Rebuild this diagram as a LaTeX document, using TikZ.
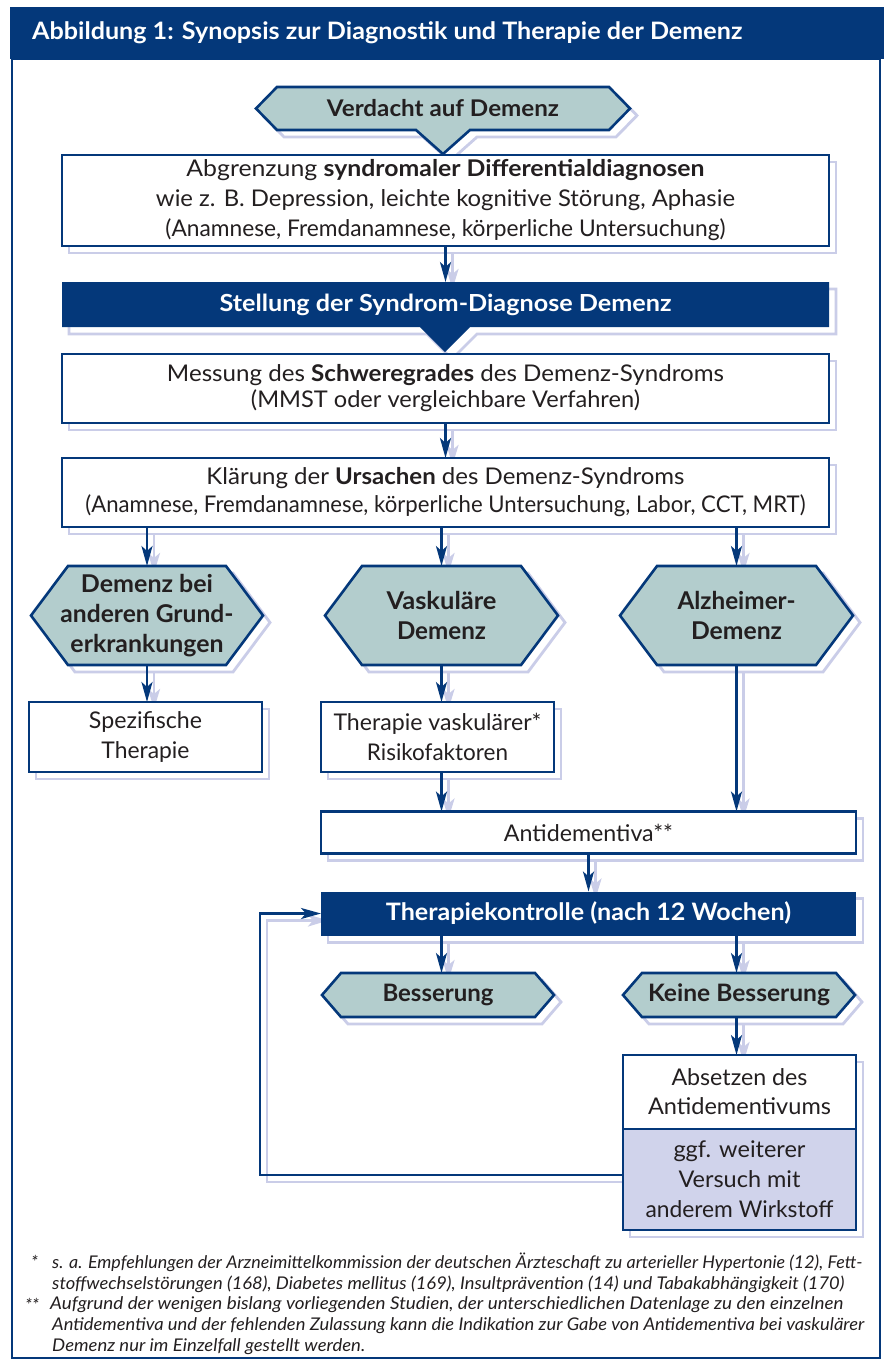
\documentclass[tikz,border=0pt]{standalone}
\usepackage{fontspec}
\setmainfont{Lato}
\usepackage{graphicx}
\usetikzlibrary{arrows.meta,calc}
\definecolor{navy}{HTML}{04387A}
\definecolor{hexfill}{HTML}{B3CDCD}
\definecolor{shad}{HTML}{CACDE8}
\definecolor{lav}{HTML}{D0D3EB}
\definecolor{txt}{HTML}{231F20}
\pgfdeclarelayer{back}
\pgfdeclarelayer{shadow}
\pgfdeclarelayer{bg}
\pgfsetlayers{back,shadow,bg,main}
\newcommand\fs[2]{\fontsize{#1}{#2}\selectfont}
\newcommand\fitw[2]{\resizebox{#1pt}{\height}{#2}}
\newcommand\hexpath[2]{(#1.west) -- ([xshift=#2]#1.north west) -- ([xshift=-#2]#1.north east) -- (#1.east) -- ([xshift=-#2]#1.south east) -- ([xshift=#2]#1.south west) -- cycle}
\begin{document}
\begin{tikzpicture}[x=1pt,y=-1pt,
  box/.style={draw=navy, line width=2.6pt, fill=white, inner sep=0pt, outer sep=0pt, align=center, text=txt},
  darkbox/.style={fill=navy, inner sep=0pt, outer sep=0pt, align=center, text=white},
  hexnode/.style={inner sep=0pt, outer sep=0pt, align=center, text=txt},
  hexst/.style={fill=hexfill, draw=navy, line width=2.6pt, line join=miter},
  shadowst/.style={draw=shad, line width=2.8pt},
  sh/.style={transform canvas={shift={(7pt,-7pt)}}},
  arr/.style={draw=navy, line width=2.5pt, -{Stealth[length=20pt,width=11pt,inset=5pt]}},
  arrsh/.style={draw=shad, line width=2.8pt, -{Stealth[length=20pt,width=12pt,inset=5pt]}, sh},
  fn/.style={anchor=west, inner sep=0pt, text=txt, font=\itshape\fs{17.5}{21}}
]
\begin{pgfonlayer}{back}
\fill[white] (0,0) rectangle (884,1363);
\end{pgfonlayer}
% title and frame
\fill[navy] (10,7) rectangle (884,59);
\draw[navy, line width=2pt] (12,59) rectangle (880,1358);
\node[anchor=west, inner sep=0pt, text=white, font=\bfseries\fs{24}{28}] (title) at (32,33) {\fitw{710}{Abbildung 1: Synopsis zur Diagnostik und Therapie der Demenz}};

% nodes
\coordinate (vw) at (256,108.5);
\coordinate (vnw) at (277,87);
\coordinate (vne) at (609,87);
\coordinate (ve) at (630,108.5);
\coordinate (vse) at (609,130);
\coordinate (vr) at (470,130);
\coordinate (vtip) at (443,154);
\coordinate (vl) at (416,130);
\coordinate (vsw) at (277,130);
\coordinate (sr) at (470,327);
\coordinate (stip) at (445,352);
\coordinate (sl) at (420,327);
\node[box, minimum width=767pt, minimum height=91pt, font=\fs{23}{30}] (abgr) at (445.5,200.5) {\fitw{518}{Abgrenzung \textbf{syndromaler Differentialdiagnosen}}\\\fitw{579}{wie z. B. Depression, leichte kognitive Störung, Aphasie}\\\fitw{560}{(Anamnese, Fremdanamnese, körperliche Untersuchung)}};
\node[hexnode, text=white, minimum width=767pt, minimum height=45pt, font=\bfseries\fs{23.5}{26}] (stell) at (445.5,304.5) {\fitw{452}{Stellung der Syndrom-Diagnose Demenz}};
\node[box, minimum width=767pt, minimum height=69pt, font=\fs{23}{26}] (mess) at (445.5,388.5) {\fitw{557}{Messung des \textbf{Schweregrades} des Demenz-Syndroms}\\\fitw{389}{(MMST oder vergleichbare Verfahren)}};
\node[box, minimum width=767pt, minimum height=69pt, font=\fs{23}{28}] (klaer) at (445.5,492.5) {\fitw{478}{Klärung der \textbf{Ursachen} des Demenz-Syndroms}\\\fitw{720}{(Anamnese, Fremdanamnese, körperliche Untersuchung, Labor, CCT, MRT)}};
\node[hexnode, minimum width=232pt, minimum height=99pt, font=\bfseries\fs{24.5}{30}] (hex1) at (147,615.5) {\fitw{132}{Demenz bei}\\\fitw{173}{anderen Grund-}\\\fitw{153}{erkrankungen}};
\node[hexnode, minimum width=233pt, minimum height=99pt, font=\bfseries\fs{24.5}{30}] (hex2) at (441.5,615.5) {\fitw{110}{Vaskuläre}\\\fitw{89}{Demenz}};
\node[hexnode, minimum width=233pt, minimum height=99pt, font=\bfseries\fs{24.5}{30}] (hex3) at (736.5,615.5) {\fitw{118}{Alzheimer-}\\\fitw{91}{Demenz}};
\node[box, minimum width=233pt, minimum height=70pt, font=\fs{23}{30}] (spez) at (145.5,737) {\fitw{113}{Spezifische}\\\fitw{88}{Therapie}};
\node[box, minimum width=233pt, minimum height=70pt, font=\fs{23}{30}] (thvas) at (437.5,737) {\fitw{208}{Therapie vaskulärer*}\\\fitw{141}{Risikofaktoren}};
\node[box, minimum width=535pt, minimum height=42pt, font=\fs{23}{29}] (anti) at (588.5,832.5) {\fitw{169}{Antidementiva**}};
\node[darkbox, minimum width=535pt, minimum height=44pt, font=\bfseries\fs{24}{29}] (thk) at (588.5,913.5) {\fitw{405}{Therapiekontrolle (nach 12 Wochen)}};
\node[hexnode, minimum width=232pt, minimum height=44pt, font=\bfseries\fs{24}{29}] (bess) at (438,995) {\fitw{111}{Besserung}};
\node[hexnode, minimum width=232pt, minimum height=44pt, font=\bfseries\fs{24}{29}] (keine) at (739,995) {\fitw{182}{Keine Besserung}};
\node[box, minimum width=233pt, minimum height=74pt, font=\fs{23}{29}] (abs) at (739.5,1092) {\fitw{136}{Absetzen des}\\\fitw{183}{Antidementivums}};
\node[box, fill=lav, minimum width=233pt, minimum height=101pt, font=\fs{23}{30}] (ggf) at (739.5,1179.5) {\fitw{132}{ggf. weiterer}\\\fitw{122}{Versuch mit}\\\fitw{188}{anderem Wirkstoff}};
\coordinate (loopc) at (260,1000);
\coordinate (loopst) at ([yshift=4.5pt]ggf.west);

% shaped node "Verdacht" (hexagon with pointer), then its text
\path[hexst] (vw) -- (vnw) -- (vne) -- (ve) -- (vse) -- (vr) -- (vtip) -- (vl) -- (vsw) -- cycle;
\node[hexnode, minimum width=374pt, minimum height=43pt, font=\bfseries\fs{23}{26}] (verd) at (443,108.5) {\fitw{232}{Verdacht auf Demenz}};

% fills of shaped nodes
\begin{pgfonlayer}{bg}
\path[fill=navy] (stell.north west) -- (stell.north east) -- (stell.south east) -- (sr) -- (stip) -- (sl) -- (stell.south west) -- cycle;
\path[hexst] \hexpath{hex1}{37pt};
\path[hexst] \hexpath{hex2}{37pt};
\path[hexst] \hexpath{hex3}{37pt};
\path[hexst] \hexpath{bess}{19pt};
\path[hexst] \hexpath{keine}{19pt};
\end{pgfonlayer}

% shadows
\begin{pgfonlayer}{shadow}
\path[shadowst, sh] (vw) -- (vnw) -- (vne) -- (ve) -- (vse) -- (vr) -- (vtip) -- (vl) -- (vsw) -- cycle;
\path[shadowst, sh] (stell.north west) -- (stell.north east) -- (stell.south east) -- (sr) -- (stip) -- (sl) -- (stell.south west) -- cycle;
\path[shadowst, sh] \hexpath{hex1}{37pt};
\path[shadowst, sh] \hexpath{hex2}{37pt};
\path[shadowst, sh] \hexpath{hex3}{37pt};
\path[shadowst, sh] \hexpath{bess}{19pt};
\path[shadowst, sh] \hexpath{keine}{19pt};
\foreach \n in {abgr,mess,klaer,spez,thvas,anti,thk}{
  \draw[shadowst, sh] (\n.north west) rectangle (\n.south east);
}
\draw[shadowst, sh] (abs.north west) rectangle (ggf.south east);
\draw[arrsh] (abgr.south) -- (stell.north);
\draw[arrsh] (mess.south) -- (klaer.north);
\draw[arrsh] (klaer.south -| hex1.north) -- (hex1.north);
\draw[arrsh] (klaer.south -| hex2.north) -- (hex2.north);
\draw[arrsh] (klaer.south -| hex3.north) -- (hex3.north);
\draw[arrsh] (hex1.south) -- (hex1.south |- spez.north);
\draw[arrsh] (hex2.south) -- (hex2.south |- thvas.north);
\draw[arrsh] (thvas.south -| hex2) -- (hex2 |- anti.north);
\draw[arrsh] (hex3.south) -- (hex3.south |- anti.north);
\draw[arrsh] (anti.south) -- (thk.north);
\draw[arrsh] (thk.south -| hex2) -- (hex2 |- bess.north);
\draw[arrsh] (thk.south -| hex3) -- (hex3 |- keine.north);
\draw[arrsh] (keine.south -| hex3) -- (hex3 |- abs.north);
\draw[arrsh] (loopst) -- (loopst -| loopc) -- (loopc |- thk.west) -- (thk.west);
\end{pgfonlayer}

% connectors
\draw[arr] (abgr.south) -- (stell.north);
\draw[arr] (mess.south) -- (klaer.north);
\draw[arr] (klaer.south -| hex1.north) -- (hex1.north);
\draw[arr] (klaer.south -| hex2.north) -- (hex2.north);
\draw[arr] (klaer.south -| hex3.north) -- (hex3.north);
\draw[arr] (hex1.south) -- (hex1.south |- spez.north);
\draw[arr] (hex2.south) -- (hex2.south |- thvas.north);
\draw[arr] (thvas.south -| hex2) -- (hex2 |- anti.north);
\draw[arr] (hex3.south) -- (hex3.south |- anti.north);
\draw[arr] (anti.south) -- (thk.north);
\draw[arr] (thk.south -| hex2) -- (hex2 |- bess.north);
\draw[arr] (thk.south -| hex3) -- (hex3 |- keine.north);
\draw[arr] (keine.south -| hex3) -- (hex3 |- abs.north);
\draw[arr] (loopst) -- (loopst -| loopc) -- (loopc |- thk.west) -- (thk.west);

% footnotes
\node[fn] (st1) at (31,1262) {*};
\node[fn] (fn1) at (52,1262) {\fitw{810}{s. a. Empfehlungen der Arzneimittelkommission der deutschen Ärzteschaft zu arterieller Hypertonie (12), Fett-}};
\node[fn] (fn2) at (52,1284) {\fitw{792}{stoffwechselstörungen (168), Diabetes mellitus (169), Insultprävention (14) und Tabakabhängigkeit (170)}};
\node[fn] (st2) at (25,1305) {**};
\node[fn] (fn3) at (50,1305) {\fitw{793}{Aufgrund der wenigen bislang vorliegenden Studien, der unterschiedlichen Datenlage zu den einzelnen}};
\node[fn] (fn4) at (52,1326) {\fitw{812}{Antidementiva und der fehlenden Zulassung kann die Indikation zur Gabe von Antidementiva bei vaskulärer}};
\node[fn] (fn5) at (52,1347) {\fitw{313}{Demenz nur im Einzelfall gestellt werden.}};
\end{tikzpicture}
\end{document}
